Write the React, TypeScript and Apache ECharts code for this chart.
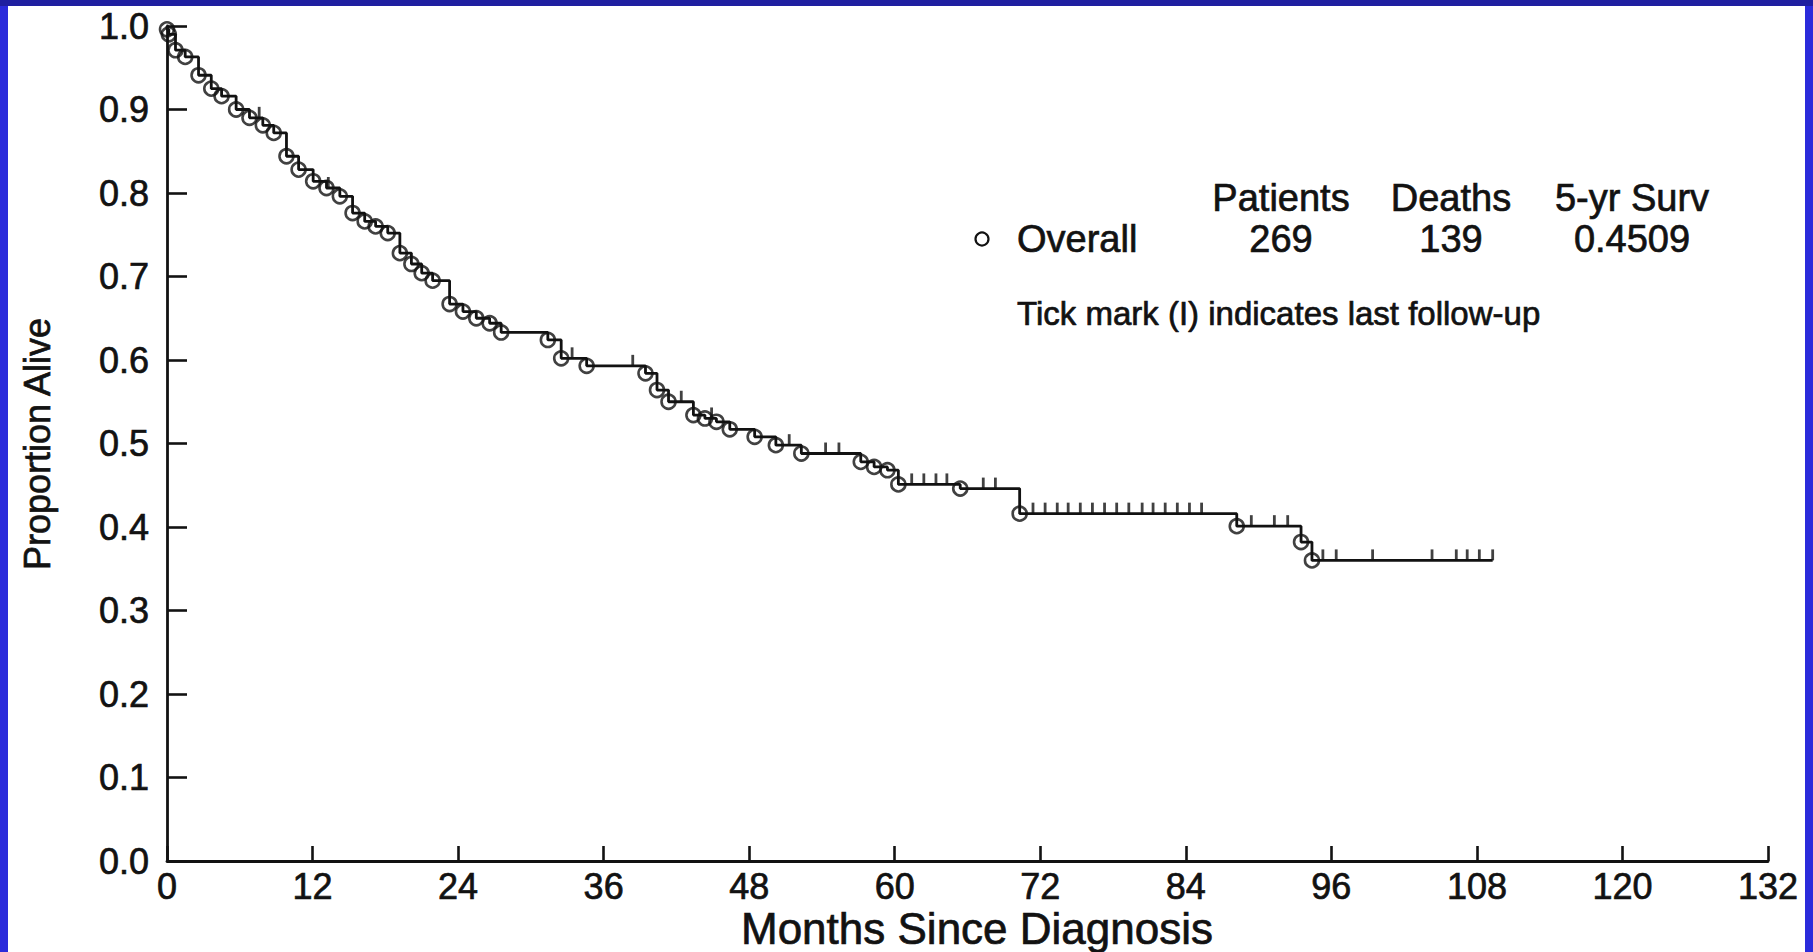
import React, { useEffect, useRef } from "react";
import * as echarts from "echarts";

// Kaplan-Meier steps: month of each death step and survival after it
const deathMonths = [
  0, 0.15, 0.7, 1.5, 2.6, 3.65, 4.5, 5.7, 6.8, 7.9,
  8.8, 9.85, 10.85, 12.05, 13.15, 14.25, 15.3, 16.3, 17.2, 18.2,
  19.2, 20.15, 21.0, 21.9, 23.3, 24.4, 25.5, 26.6, 27.55, 31.4,
  32.5, 34.6, 39.45, 40.4, 41.35, 43.4, 44.35, 45.3, 46.4, 48.45,
  50.2, 52.3, 57.2, 58.3, 59.4, 60.3, 65.4, 70.3, 88.2, 93.5,
  94.4,
];
const deathSurvival = [
  0.996, 0.99, 0.971, 0.963, 0.941, 0.925, 0.916, 0.9, 0.89, 0.881,
  0.872, 0.844, 0.828, 0.814, 0.806, 0.796, 0.776, 0.766, 0.76, 0.752,
  0.728, 0.715, 0.704, 0.695, 0.667, 0.658, 0.65, 0.644, 0.633, 0.624,
  0.602, 0.593, 0.584, 0.564, 0.55, 0.534, 0.53, 0.526, 0.517, 0.508,
  0.498, 0.488, 0.478, 0.472, 0.468, 0.451, 0.446, 0.416, 0.401, 0.382,
  0.36,
];
// months of last follow-up (censored patients)
const censorMonths = [
  7.6, 13.3, 33.4, 38.4, 42.4, 44.9, 51.3, 54.3, 55.4, 61.4,
  62.4, 63.4, 64.3, 67.3, 68.3, 71.4, 72.4, 73.4, 74.3, 75.3,
  76.3, 77.3, 78.3, 79.3, 80.4, 81.3, 82.3, 83.3, 84.3, 85.3,
  89.4, 91.3, 92.4, 95.3, 96.4, 99.4, 104.3, 106.3, 107.2, 108.2,
  109.3,
];
const lastFollowUp = 109.3;

const xTickValues = [0, 12, 24, 36, 48, 60, 72, 84, 96, 108, 120, 132];
const yTickLabels = ["0.0", "0.1", "0.2", "0.3", "0.4", "0.5", "0.6", "0.7", "0.8", "0.9", "1.0"];

const legendHeaders = ["Patients", "Deaths", "5-yr Surv"];
const legendGroup = "Overall";
const legendValues = ["269", "139", "0.4509"];
const legendNote = "Tick mark (I) indicates last follow-up";

const xTitle = "Months Since Diagnosis";
const yTitle = "Proportion Alive";

const INK = "#121212";
const FONT = '"Liberation Sans", Arial, Helvetica, sans-serif';
const HEAVY = { textBorderColor: INK, textBorderWidth: 0.7 };

function survivalAt(t: number): number {
  let s = 1;
  for (let i = 0; i < deathMonths.length; i++) {
    if (deathMonths[i] <= t) s = deathSurvival[i];
  }
  return s;
}

export default function App() {
  const ref = useRef<HTMLDivElement>(null);

  useEffect(() => {
    if (!ref.current) return;
    const chart = echarts.init(ref.current, null, { renderer: "svg" });

    const lineData: number[][] = [[0, 1]];
    deathMonths.forEach((m, i) => lineData.push([m, deathSurvival[i]]));
    lineData.push([lastFollowUp, survivalAt(lastFollowUp)]);

    const deathPoints = deathMonths.map((m, i) => [m, deathSurvival[i]]);
    const censorPoints = censorMonths.map((m) => [m, survivalAt(m)]);

    const colX = [1281, 1451, 1632];

    const txt = (text: string, x: number, y: number, size: number, align: string, extra: any = {}) => ({
      type: "text",
      x,
      y,
      ...extra,
      style: {
        text,
        fill: INK,
        stroke: INK,
        lineWidth: 0.7,
        fontSize: size,
        fontFamily: FONT,
        align,
        verticalAlign: "middle",
      },
    });

    const graphics: any[] = [];
    legendHeaders.forEach((h, i) => graphics.push(txt(h, colX[i], 198, 38, "center")));
    legendValues.forEach((v, i) => graphics.push(txt(v, colX[i], 239, 38, "center")));
    graphics.push({
      type: "circle",
      shape: { cx: 982, cy: 239, r: 6.5 },
      style: { fill: "none", stroke: INK, lineWidth: 2.2 },
    });
    graphics.push(txt(legendGroup, 1017, 239, 38, "left"));
    graphics.push(txt(legendNote, 1017, 313, 33, "left"));
    graphics.push(txt(xTitle, 977, 928, 44, "center"));
    graphics.push(txt(yTitle, 37, 444, 36, "center", { rotation: Math.PI / 2 }));

    chart.setOption({
      animation: false,
      backgroundColor: "transparent",
      grid: { left: 167, right: 45, top: 26, bottom: 91, outerBoundsMode: "none" },
      xAxis: {
        type: "value",
        min: xTickValues[0],
        max: xTickValues[xTickValues.length - 1],
        interval: xTickValues[1] - xTickValues[0],
        axisLine: { show: true, onZero: false, lineStyle: { color: INK, width: 2.8 } },
        axisTick: { show: true, inside: true, length: 15, lineStyle: { color: INK, width: 2.6 } },
        axisLabel: { color: INK, fontSize: 36, fontFamily: FONT, margin: 7, ...HEAVY },
        splitLine: { show: false },
      },
      yAxis: {
        type: "value",
        min: 0,
        max: 1,
        interval: 0.1,
        axisLine: { show: true, lineStyle: { color: INK, width: 2.8 } },
        axisTick: { show: true, inside: true, length: 20, lineStyle: { color: INK, width: 2.6 } },
        axisLabel: {
          color: INK,
          fontSize: 36,
          fontFamily: FONT,
          margin: 18,
          ...HEAVY,
          formatter: (v: number) => yTickLabels[Math.round(v * 10)] ?? v.toFixed(1),
        },
        splitLine: { show: false },
      },
      graphic: graphics,
      series: [
        {
          type: "line",
          name: "Overall",
          step: "end",
          data: lineData,
          symbol: "none",
          lineStyle: { color: INK, width: 2.8 },
          z: 2,
        },
        {
          type: "scatter",
          name: "deaths",
          data: deathPoints,
          symbol: "circle",
          symbolSize: 14,
          itemStyle: { color: "rgba(0,0,0,0)", borderColor: INK, borderWidth: 2.6 },
          z: 3,
        },
        {
          type: "scatter",
          name: "censored",
          data: censorPoints,
          symbol: "rect",
          symbolSize: [2.8, 11],
          symbolOffset: [0, -5.5],
          itemStyle: { color: INK },
          z: 3,
        },
      ],
    });

    return () => chart.dispose();
  }, []);

  return (
    <div style={{ position: "fixed", left: 0, top: 0, width: 1813, height: 952, background: "#2b2bdb", overflow: "hidden" }}>
      <div style={{ position: "absolute", left: 0, top: 0, width: 1813, height: 6, background: "#1f1fa0" }} />
      <div style={{ position: "absolute", left: 8, top: 6, width: 1797, height: 946, background: "#ffffff" }} />
      <div ref={ref} style={{ position: "absolute", left: 0, top: 0, width: 1813, height: 952 }} />
    </div>
  );
}
